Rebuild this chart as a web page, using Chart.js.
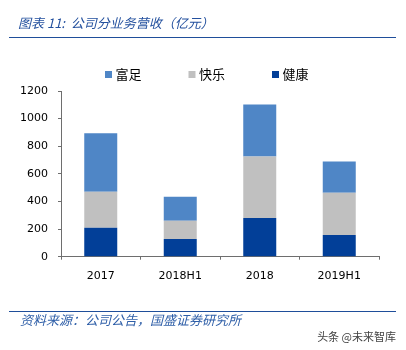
<!DOCTYPE html>
<html>
<head>
<meta charset="utf-8">
<script src="https://cdn.jsdelivr.net/npm/chart.js@4/dist/chart.umd.min.js"></script>
<style>
  html, body { margin: 0; padding: 0; background: #fff; }
  #wrap { position: relative; width: 406px; height: 350px; overflow: hidden; }
  canvas { position: absolute; left: 0; top: 0; }
  .title { position: absolute; left: 18px; top: 15px; font: italic 13px "Noto Sans CJK SC"; line-height: 16px; color: #23509e; white-space: nowrap; }
  .rule { position: absolute; left: 9px; width: 387px; height: 1px; background: #1f4e9a; }
  .source { position: absolute; left: 20px; top: 312px; font: italic 13px "Noto Sans CJK SC"; line-height: 16px; color: #2f5fa8; white-space: nowrap; }
  .mark { position: absolute; right: 10px; top: 329px; font: 11px "Noto Sans CJK SC"; line-height: 15px; color: #444; white-space: nowrap; }
</style>
</head>
<body>
<div id="wrap">
  <canvas id="c" width="406" height="350"></canvas>
  <div class="title">图表 11:&nbsp; 公司分业务营收（亿元）</div>
  <div class="rule" style="top:37px"></div>
  <div class="rule" style="top:311px"></div>
  <div class="source">资料来源：公司公告，国盛证券研究所</div>
  <div class="mark">头条 @未来智库</div>
</div>
<script>
const categories = ["2017", "2018H1", "2018", "2019H1"];
const seriesNames = ["健康", "快乐", "富足"];
const health = [209, 129, 281, 158];
const happy = [261, 131, 444, 305];
const rich = [424, 174, 378, 226];
const yTicks = [0, 200, 400, 600, 800, 1000, 1200];

const axisColor = '#6e6e6e';
const tickFont = { family: 'DejaVu Sans', size: 11 };

const legendShift = {
  id: 'legendShift',
  afterLayout(chart) { if (chart.legend) chart.legend.left += 37.5; }
};

new Chart(document.getElementById('c'), {
  type: 'bar',
  data: {
    labels: categories,
    datasets: [
      { label: seriesNames[0], data: health, backgroundColor: '#023f98', borderWidth: 0 },
      { label: seriesNames[1], data: happy, backgroundColor: '#c0c0c0', borderWidth: 0 },
      { label: seriesNames[2], data: rich, backgroundColor: '#4f86c6', borderWidth: 0 }
    ]
  },
  plugins: [legendShift],
  options: {
    responsive: false,
    animation: false,
    barPercentage: 0.415,
    categoryPercentage: 1,
    layout: { padding: { top: 18, left: 0, right: 27, bottom: 63.3 } },
    plugins: {
      tooltip: { enabled: false },
      legend: {
        position: 'top',
        reverse: true,
        labels: {
          usePointStyle: true,
          pointStyle: 'rect',
          boxWidth: 1,
          boxHeight: 7,
          padding: 50,
          color: '#000',
          font: { family: 'Noto Sans CJK SC', size: 13 }
        }
      }
    },
    scales: {
      x: {
        stacked: true,
        afterFit: (s) => { s.height = 30; },
        grid: { offset: true, drawOnChartArea: false, tickLength: 3, color: axisColor },
        border: { color: axisColor, width: 1 },
        ticks: { color: '#000', font: tickFont, padding: 10, maxRotation: 0 }
      },
      y: {
        stacked: true,
        min: 0,
        max: 1200,
        afterFit: (s) => { s.width = 61; },
        afterBuildTicks: (s) => { s.ticks = yTicks.map(v => ({ value: v })); },
        grid: { drawOnChartArea: false, tickLength: 3, color: axisColor },
        border: { color: axisColor, width: 1 },
        ticks: { color: '#000', font: tickFont, padding: 10, callback: (v) => String(v) }
      }
    }
  }
});
</script>
</body>
</html>
